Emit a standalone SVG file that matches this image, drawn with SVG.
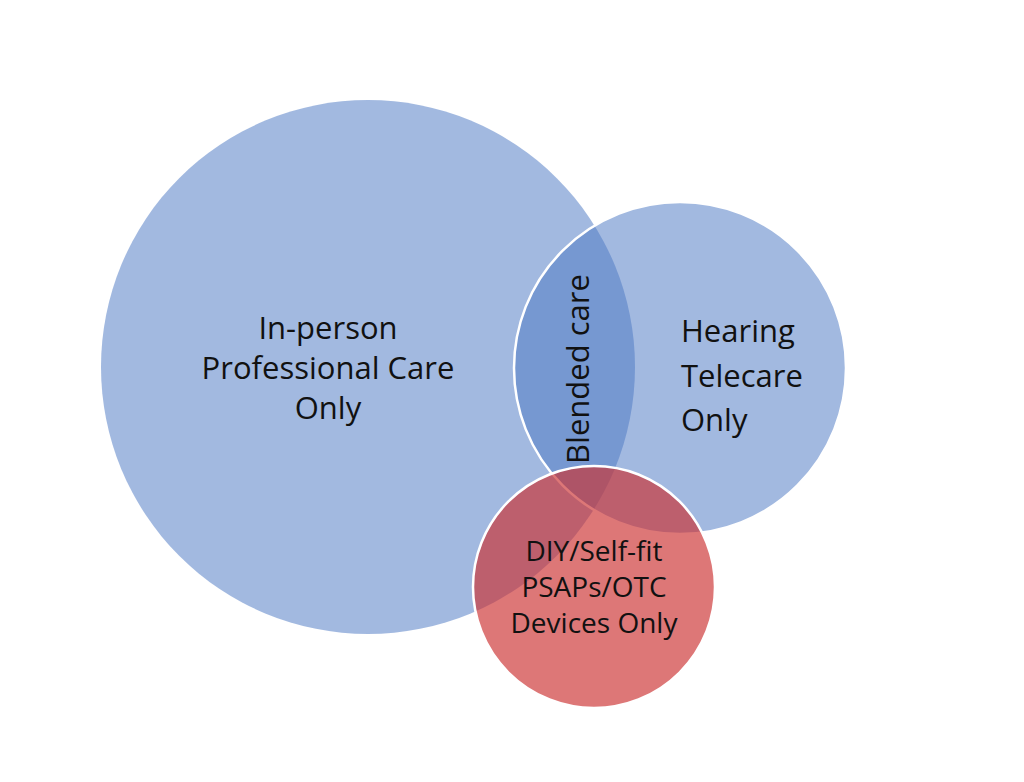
<svg xmlns="http://www.w3.org/2000/svg" width="1024" height="782" viewBox="0 0 1024 782">
<style>
.t{font-family:"Open Sans","Liberation Sans",sans-serif;fill:#111;}
.blue{fill:#4F7AC5;fill-opacity:0.53;}
.red{fill:#CC3030;fill-opacity:0.66;}
</style>
<rect width="1024" height="782" fill="#fff"/>
<g id="inperson">
<circle cx="368" cy="367" r="267" class="blue"/>
</g>
<g id="telecare">
<circle cx="680" cy="368" r="166" class="blue" stroke="#fff" stroke-width="2.5"/>
</g>
<g id="diy">
<circle cx="594" cy="587" r="121" class="red" stroke="#fff" stroke-width="2.5"/>
</g>
<g id="labels">
<text class="t" font-size="31" text-anchor="middle" x="328" y="339">In-person</text>
<text class="t" font-size="31" text-anchor="middle" x="328" y="379">Professional Care</text>
<text class="t" font-size="31" text-anchor="middle" x="328" y="419">Only</text>
<text class="t" font-size="31" x="681" y="342">Hearing</text>
<text class="t" font-size="31" x="681" y="387">Telecare</text>
<text class="t" font-size="31" x="681" y="431">Only</text>
<text class="t" font-size="31" text-anchor="middle" transform="translate(589,369) rotate(-90)">Blended care</text>
<text class="t" font-size="28" text-anchor="middle" x="594" y="561">DIY/Self-fit</text>
<text class="t" font-size="28" text-anchor="middle" x="594" y="597">PSAPs/OTC</text>
<text class="t" font-size="28" text-anchor="middle" x="594" y="633">Devices Only</text>
</g>
</svg>
